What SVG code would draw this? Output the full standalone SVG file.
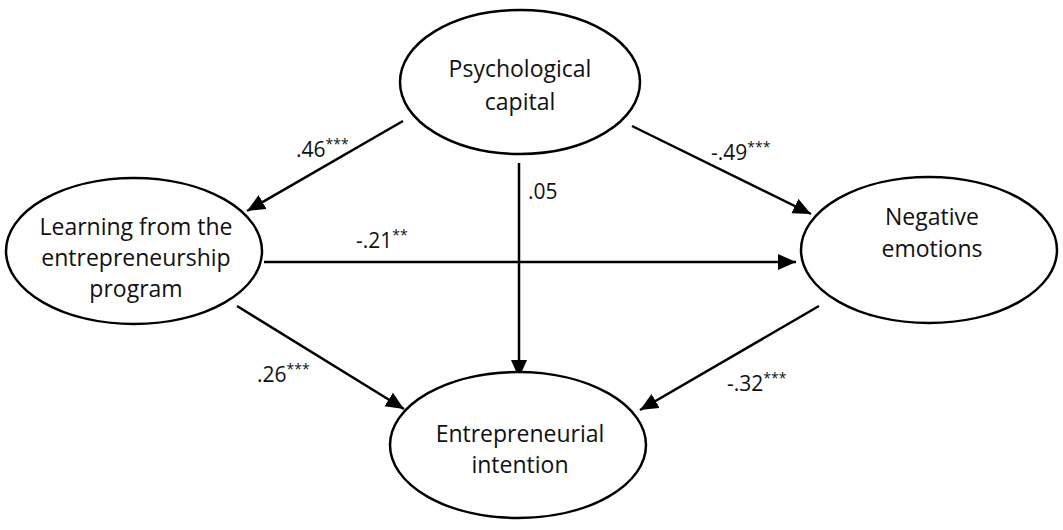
<svg xmlns="http://www.w3.org/2000/svg" width="1063" height="530" viewBox="0 0 1063 530">
<style>
.node ellipse{fill:#fff;stroke:#000;stroke-width:2.5}
.node text{font-family:"Open Sans","Noto Sans",sans-serif;font-size:23px;text-anchor:middle;fill:#111}
.conn line{stroke:#000;stroke-width:2.5;marker-end:url(#ah)}
.lbl{font-family:"Open Sans","Noto Sans",sans-serif;font-size:21px;fill:#111}
.sup{font-size:14px}
</style>
<defs>
<marker id="ah" markerUnits="userSpaceOnUse" markerWidth="20" markerHeight="18" refX="18" refY="8" orient="auto">
<path d="M0,0 L18,8 L0,16 z" fill="#000"/>
</marker>
</defs>
<rect width="1063" height="530" fill="#fff"/>
<g id="connectors" class="conn">
<line x1="403" y1="121" x2="247" y2="211"/>
<line x1="632" y1="126" x2="811" y2="214"/>
<line x1="519" y1="163" x2="519" y2="378"/>
<line x1="264" y1="262" x2="796" y2="262"/>
<line x1="237" y1="306" x2="404" y2="409"/>
<line x1="819" y1="306" x2="640" y2="410"/>
</g>
<g id="labels">
<text class="lbl" x="296" y="157">.46<tspan class="sup" dy="-8">***</tspan></text>
<text class="lbl" x="711" y="160">-.49<tspan class="sup" dy="-8">***</tspan></text>
<text class="lbl" x="528" y="199">.05</text>
<text class="lbl" x="356" y="248">-.21<tspan class="sup" dy="-8">**</tspan></text>
<text class="lbl" x="257" y="382">.26<tspan class="sup" dy="-8">***</tspan></text>
<text class="lbl" x="727" y="391">-.32<tspan class="sup" dy="-8">***</tspan></text>
</g>
<g id="psychological-capital" class="node">
<ellipse cx="520" cy="82" rx="120" ry="72"/>
<text x="520" y="77">Psychological</text>
<text x="520" y="110">capital</text>
</g>
<g id="learning" class="node">
<ellipse cx="134" cy="251" rx="128" ry="73"/>
<text x="136" y="235">Learning from the</text>
<text x="136" y="266">entrepreneurship</text>
<text x="136" y="297">program</text>
</g>
<g id="negative-emotions" class="node">
<ellipse cx="929" cy="250" rx="128" ry="73"/>
<text x="932" y="225">Negative</text>
<text x="932" y="257">emotions</text>
</g>
<g id="entrepreneurial-intention" class="node">
<ellipse cx="518" cy="445" rx="128" ry="73"/>
<text x="520" y="442">Entrepreneurial</text>
<text x="520" y="473">intention</text>
</g>
</svg>
